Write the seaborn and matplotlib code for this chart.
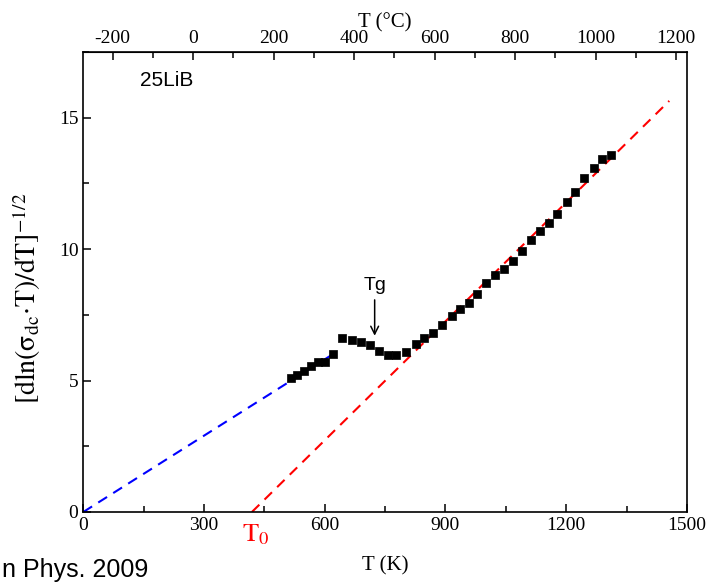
import numpy as np
import pandas as pd
import matplotlib
matplotlib.use('Agg')
import matplotlib.pyplot as plt
import seaborn as sns

# --- data ---
temp_k = [515, 532, 548, 565, 582, 600, 620,
          644, 668, 689, 712, 734, 757, 778, 801, 826, 847, 870, 892, 915,
          936, 958, 978, 1000, 1022, 1046, 1068, 1091, 1112, 1135, 1158,
          1178, 1201, 1222, 1245, 1268, 1290, 1311]
inv_slope = [5.08, 5.22, 5.38, 5.55, 5.70, 5.72, 6.02,
             6.63, 6.53, 6.46, 6.34, 6.11, 5.96, 5.96, 6.08, 6.40, 6.63, 6.80, 7.10, 7.44,
             7.73, 7.94, 8.30, 8.72, 9.03, 9.25, 9.56, 9.94, 10.35, 10.68, 10.98,
             11.34, 11.78, 12.16, 12.70, 13.10, 13.42, 13.58]

# linear fits (end points)
blue_fit_t = [0, 622]
blue_fit_y = [0, 6.02]
red_fit_t = [419, 1456]
red_fit_y = [0, 15.64]

t0_value = 419
tg_value = 724

df = pd.DataFrame({'T': temp_k, 'y': inv_slope})

sns.set_style('ticks')
plt.rcParams['mathtext.fontset'] = 'stix'
plt.rcParams['font.family'] = ['Liberation Serif', 'DejaVu Serif']
plt.rcParams['axes.unicode_minus'] = False
for key in ['text.color', 'axes.labelcolor', 'xtick.color', 'ytick.color', 'axes.edgecolor']:
    plt.rcParams[key] = 'black'

fig = plt.figure(figsize=(7.13, 5.84), dpi=100)
ax = fig.add_axes([0.1168, 0.1233, 0.8467, 0.7877])

sns.lineplot(x=blue_fit_t, y=blue_fit_y, ax=ax, color='blue', lw=1.5,
             linestyle=(0, (5, 3.5)))
sns.lineplot(x=red_fit_t, y=red_fit_y, ax=ax, color='red', lw=1.5,
             linestyle=(0, (5, 3.5)))
sns.scatterplot(data=df, x='T', y='y', ax=ax, marker='s', s=40, color='black',
                edgecolor='black', linewidth=0.5, zorder=3)

ax.set_xlim(0, 1500)
ax.set_ylim(0, 17.5)
ax.set_xticks([0, 300, 600, 900, 1200, 1500])
ax.set_xticks(np.arange(150, 1500, 300), minor=True)
ax.set_yticks([0, 5, 10, 15])
ax.set_yticks([2.5, 7.5, 12.5, 17.5], minor=True)
ax.tick_params(which='both', direction='in', width=1.1, labelsize=14,
               top=False, right=False)
ax.tick_params(which='major', length=6)
ax.tick_params(which='minor', length=4)
for sp in ax.spines.values():
    sp.set_linewidth(1.2)
    sp.set_visible(True)

ax.set_xlabel('T (K)', fontsize=15, labelpad=16)
ax.set_ylabel(r'$[\mathrm{dln(σ_{dc}{\cdot}T)/dT]}^{\mathrm{-1/2}}$', fontsize=20)
ax.yaxis.set_label_coords(-0.067, 0.465)

# top axis in Celsius
top = ax.secondary_xaxis('top', functions=(lambda k: k - 273, lambda c: c + 273))
top.set_xticks(np.arange(-200, 1201, 200))
top.set_xticks(np.arange(-100, 1201, 200), minor=True)
top.tick_params(which='both', direction='in', width=1.1, labelsize=14)
top.tick_params(which='major', length=6)
top.tick_params(which='minor', length=4)
top.set_xlabel('T (°C)', fontsize=15, labelpad=2)

# annotations
ax.text(141, 16.4, '25LiB', fontsize=15, family='Liberation Sans', va='center')
ax.annotate('Tg', xy=(tg_value, 6.6), xytext=(tg_value, 8.3),
            fontsize=14, family='Liberation Sans', ha='center', va='bottom',
            arrowprops=dict(arrowstyle='->', color='black', lw=1.1))
ax.text(t0_value + 10, -0.4, r'$\mathrm{T}_0$', color='red', fontsize=19,
        ha='center', va='top')

fig.text(2 / 713, 7 / 584, 'n Phys. 2009', fontsize=18,
         family='Liberation Sans', ha='left', va='baseline')

fig.savefig('out.png', dpi=100)
